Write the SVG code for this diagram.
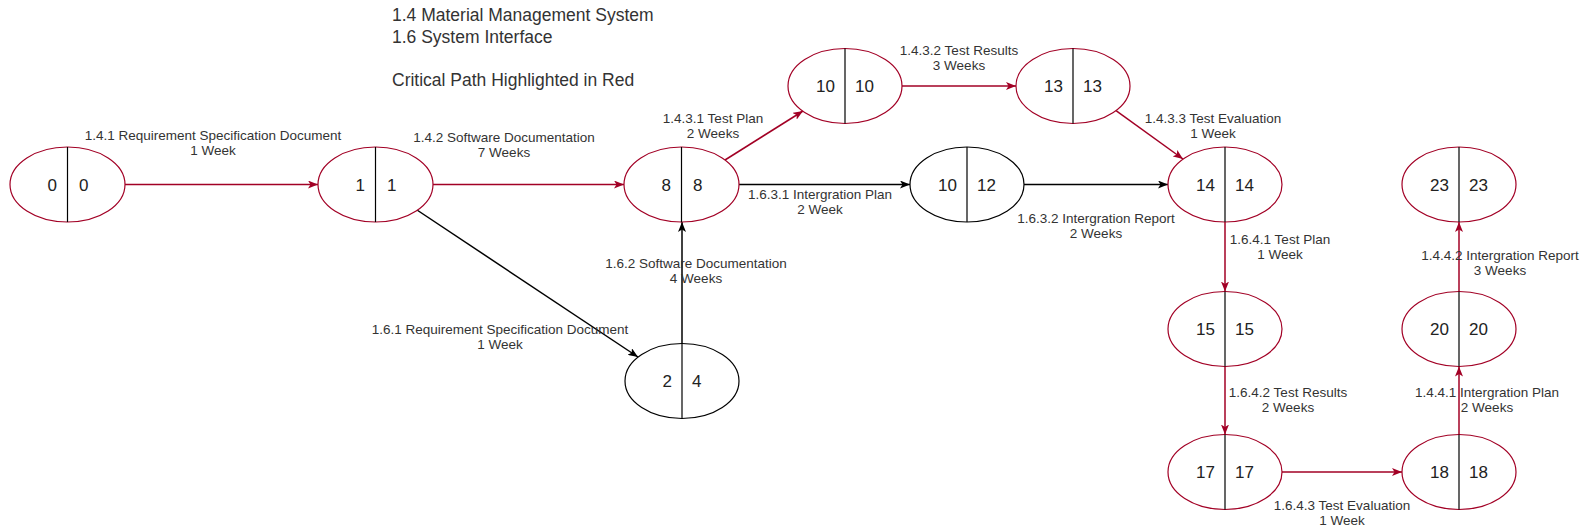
<svg xmlns="http://www.w3.org/2000/svg" width="1584" height="528" viewBox="0 0 1584 528">
<style>
.bg{fill:#ffffff}
.nc{fill:#ffffff;stroke:#a20025;stroke-width:1.2}
.nb{fill:#ffffff;stroke:#000000;stroke-width:1.2}
.dv{stroke:#000000;stroke-width:1.2}
.num{font-family:"Liberation Sans",Arial,sans-serif;font-size:17px;fill:#222222}
.lbl{font-family:"Liberation Sans",Arial,sans-serif;font-size:13.5px;fill:#333333;text-anchor:middle}
.hdr{font-family:"Liberation Sans",Arial,sans-serif;font-size:17.5px;fill:#333333}
.er{fill:none;stroke:#a20025;stroke-width:1.5;marker-end:url(#ar)}
.ek{fill:none;stroke:#000000;stroke-width:1.5;marker-end:url(#ak)}
</style>
<defs>
<marker id="ar" viewBox="0 0 10 8" refX="10" refY="4" markerWidth="10" markerHeight="8" markerUnits="userSpaceOnUse" orient="auto">
<path d="M0,0 L10,4 L0,8 L2.5,4 z" fill="#a20025"/>
</marker>
<marker id="ak" viewBox="0 0 10 8" refX="10" refY="4" markerWidth="10" markerHeight="8" markerUnits="userSpaceOnUse" orient="auto">
<path d="M0,0 L10,4 L0,8 L2.5,4 z" fill="#000000"/>
</marker>
</defs>
<rect class="bg" x="0" y="0" width="1584" height="528"/>

<g id="header">
<text class="hdr" x="392" y="21">1.4 Material Management System</text>
<text class="hdr" x="392" y="43">1.6 System Interface</text>
<text class="hdr" x="392" y="86">Critical Path Highlighted in Red</text>
</g>

<g id="connectors">
<path class="er" d="M125,184.5 L318,184.5"/>
<path class="er" d="M433,184.5 L624,184.5"/>
<path class="ek" d="M417,210 L638,357"/>
<path class="ek" d="M682,343.5 L682,222"/>
<path class="er" d="M725,160 L803,111"/>
<path class="ek" d="M739,184.5 L910,184.5"/>
<path class="er" d="M902,86 L1016,86"/>
<path class="er" d="M1116,110.6 L1183,159"/>
<path class="ek" d="M1024,184.5 L1168,184.5"/>
<path class="er" d="M1225,222 L1225,291.5"/>
<path class="er" d="M1225,366.5 L1225,434.5"/>
<path class="er" d="M1282,472 L1402,472"/>
<path class="er" d="M1459,434.5 L1459,366.5"/>
<path class="er" d="M1459,291.5 L1459,222"/>
</g>

<g id="edge-labels">
<text class="lbl" x="213" y="140">1.4.1 Requirement Specification Document<tspan x="213" dy="15">1 Week</tspan></text>
<text class="lbl" x="504" y="142">1.4.2 Software Documentation<tspan x="504" dy="15">7 Weeks</tspan></text>
<text class="lbl" x="713" y="123">1.4.3.1 Test Plan<tspan x="713" dy="15">2 Weeks</tspan></text>
<text class="lbl" x="959" y="55">1.4.3.2 Test Results<tspan x="959" dy="15">3 Weeks</tspan></text>
<text class="lbl" x="1213" y="123">1.4.3.3 Test Evaluation<tspan x="1213" dy="15">1 Week</tspan></text>
<text class="lbl" x="820" y="199">1.6.3.1 Intergration Plan<tspan x="820" dy="15">2 Week</tspan></text>
<text class="lbl" x="1096" y="223">1.6.3.2 Intergration Report<tspan x="1096" dy="15">2 Weeks</tspan></text>
<text class="lbl" x="1280" y="244">1.6.4.1 Test Plan<tspan x="1280" dy="15">1 Week</tspan></text>
<text class="lbl" x="1288" y="397">1.6.4.2 Test Results<tspan x="1288" dy="15">2 Weeks</tspan></text>
<text class="lbl" x="1342" y="510">1.6.4.3 Test Evaluation<tspan x="1342" dy="15">1 Week</tspan></text>
<text class="lbl" x="1487" y="397">1.4.4.1 Intergration Plan<tspan x="1487" dy="15">2 Weeks</tspan></text>
<text class="lbl" x="1500" y="260">1.4.4.2 Intergration Report<tspan x="1500" dy="15">3 Weeks</tspan></text>
<text class="lbl" x="696" y="268">1.6.2 Software Documentation<tspan x="696" dy="15">4 Weeks</tspan></text>
<text class="lbl" x="500" y="334">1.6.1 Requirement Specification Document<tspan x="500" dy="15">1 Week</tspan></text>
</g>

<g id="n0"><ellipse class="nc" cx="67.5" cy="184.5" rx="57.5" ry="37.5"/><line class="dv" x1="67.5" y1="147" x2="67.5" y2="222"/><text class="num" x="57" y="190.5" text-anchor="end">0</text><text class="num" x="79" y="190.5">0</text></g>
<g id="n1"><ellipse class="nc" cx="375.5" cy="184.5" rx="57.5" ry="37.5"/><line class="dv" x1="375.5" y1="147" x2="375.5" y2="222"/><text class="num" x="365" y="190.5" text-anchor="end">1</text><text class="num" x="387" y="190.5">1</text></g>
<g id="n8"><ellipse class="nc" cx="681.5" cy="184.5" rx="57.5" ry="37.5"/><line class="dv" x1="681.5" y1="147" x2="681.5" y2="222"/><text class="num" x="671" y="190.5" text-anchor="end">8</text><text class="num" x="693" y="190.5">8</text></g>
<g id="n10a"><ellipse class="nc" cx="845" cy="86" rx="57" ry="37.5"/><line class="dv" x1="845" y1="48.5" x2="845" y2="123.5"/><text class="num" x="835" y="92" text-anchor="end">10</text><text class="num" x="855" y="92">10</text></g>
<g id="n13"><ellipse class="nc" cx="1073" cy="86" rx="57" ry="37.5"/><line class="dv" x1="1073" y1="48.5" x2="1073" y2="123.5"/><text class="num" x="1063" y="92" text-anchor="end">13</text><text class="num" x="1083" y="92">13</text></g>
<g id="n10b"><ellipse class="nb" cx="967" cy="184.5" rx="57" ry="37.5"/><line class="dv" x1="967" y1="147" x2="967" y2="222"/><text class="num" x="957" y="190.5" text-anchor="end">10</text><text class="num" x="977" y="190.5">12</text></g>
<g id="n14"><ellipse class="nc" cx="1225" cy="184.5" rx="57" ry="37.5"/><line class="dv" x1="1225" y1="147" x2="1225" y2="222"/><text class="num" x="1215" y="190.5" text-anchor="end">14</text><text class="num" x="1235" y="190.5">14</text></g>
<g id="n2"><ellipse class="nb" cx="682" cy="381" rx="57" ry="37.5"/><line class="dv" x1="682" y1="343.5" x2="682" y2="418.5"/><text class="num" x="672" y="387" text-anchor="end">2</text><text class="num" x="692" y="387">4</text></g>
<g id="n15"><ellipse class="nc" cx="1225" cy="329" rx="57" ry="37.5"/><line class="dv" x1="1225" y1="291.5" x2="1225" y2="366.5"/><text class="num" x="1215" y="335" text-anchor="end">15</text><text class="num" x="1235" y="335">15</text></g>
<g id="n17"><ellipse class="nc" cx="1225" cy="472" rx="57" ry="37.5"/><line class="dv" x1="1225" y1="434.5" x2="1225" y2="509.5"/><text class="num" x="1215" y="478" text-anchor="end">17</text><text class="num" x="1235" y="478">17</text></g>
<g id="n18"><ellipse class="nc" cx="1459" cy="472" rx="57" ry="37.5"/><line class="dv" x1="1459" y1="434.5" x2="1459" y2="509.5"/><text class="num" x="1449" y="478" text-anchor="end">18</text><text class="num" x="1469" y="478">18</text></g>
<g id="n20"><ellipse class="nc" cx="1459" cy="329" rx="57" ry="37.5"/><line class="dv" x1="1459" y1="291.5" x2="1459" y2="366.5"/><text class="num" x="1449" y="335" text-anchor="end">20</text><text class="num" x="1469" y="335">20</text></g>
<g id="n23"><ellipse class="nc" cx="1459" cy="184.5" rx="57" ry="37.5"/><line class="dv" x1="1459" y1="147" x2="1459" y2="222"/><text class="num" x="1449" y="190.5" text-anchor="end">23</text><text class="num" x="1469" y="190.5">23</text></g>
</svg>
